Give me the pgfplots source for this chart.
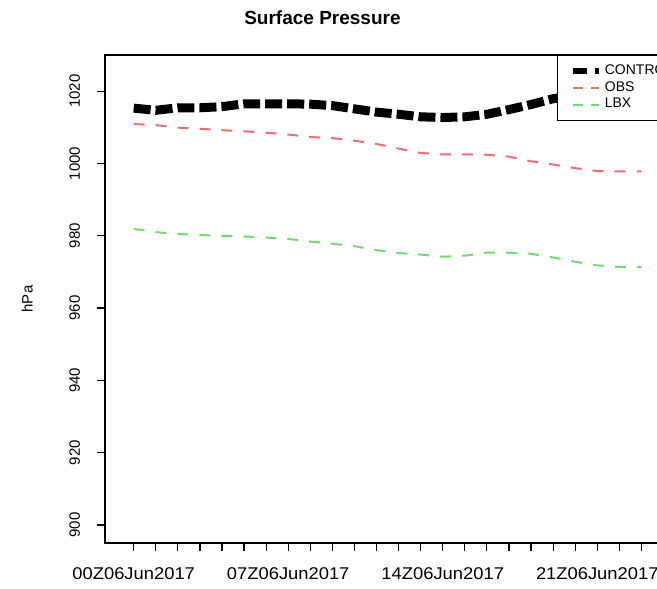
\documentclass[border=0pt]{standalone}
\usepackage{fontspec}
\setmainfont{Liberation Sans}
\newfontfamily\widefont[FakeStretch=1.08]{Liberation Sans}
\usepackage{pgfplots}
\usepackage{pgfplotstable}
\pgfplotsset{compat=1.18}
\definecolor{rline}{RGB}{240,110,110}
\definecolor{gline}{RGB}{110,220,110}
\pgfplotstableread{
h ctl obs lbx
0 1015.3 1010.9 981.9
1 1014.7 1010.6 981.0
2 1015.4 1009.9 980.5
3 1015.4 1009.6 980.2
4 1015.7 1009.2 979.9
5 1016.5 1008.9 979.8
6 1016.5 1008.5 979.5
7 1016.5 1008.0 979.1
8 1016.4 1007.3 978.4
9 1016.0 1007.0 977.8
10 1015.1 1006.3 977.1
11 1014.2 1005.4 976.0
12 1013.6 1004.1 975.2
13 1012.9 1002.9 974.8
14 1012.7 1002.5 974.2
15 1012.9 1002.5 974.5
16 1013.6 1002.4 975.3
17 1014.9 1001.9 975.3
18 1016.3 1000.6 975.0
19 1017.9 999.7 974.0
20 1018.8 998.7 972.8
21 1019.3 997.9 971.8
22 1019.5 997.8 971.4
23 1019.6 997.8 971.3
}\datatable
\pgfplotsset{
  mylegend/.style={
    legend style={at={(axis description cs:0.634,1)}, anchor=north west, draw=black, line width=0.6pt, fill=white,
      font=\fontsize{7}{8}\selectfont, inner xsep=6pt, inner ysep=3pt, row sep=-1.2pt,
      nodes={inner sep=1.6pt}},
    legend cell align=left,
    legend image code/.code={\draw[##1] (0pt,0pt) -- (13pt,0pt);},
  }
}
\begin{document}
\begin{tikzpicture}
\begin{axis}[
  at={(52.5pt,22.5pt)}, anchor=south west,
  scale only axis, width=356.5pt, height=244pt,
  xmin=-1.3, xmax=31, ymin=895, ymax=1030,
  axis line style={line width=0.6pt},
  tick style={black, line width=0.6pt},
  tick align=outside, tick pos=left,
  major tick length=4pt,
  xtick={0,...,30},
  xticklabels={00Z06Jun2017,,,,,,,07Z06Jun2017,,,,,,,14Z06Jun2017,,,,,,,21Z06Jun2017,,,,,,,,,},
  ytick={900,920,...,1020},
  yticklabels={900,920,940,960,980,1000,1020},
  yticklabel style={rotate=90, anchor=south, font=\fontsize{7.5}{9}\selectfont},
  yticklabel shift=5pt,
  xticklabel style={font=\widefont\fontsize{8.5}{10}\selectfont},
  xticklabel shift=5pt,
  ylabel={hPa},
  ylabel style={at={(axis description cs:-0.109,0.5)}, anchor=center, font=\fontsize{7.5}{9}\selectfont},
  clip=false,
]
\addplot[rline, line width=1pt, dash pattern=on 5.5pt off 5.5pt] table[x=h, y=obs] {\datatable};
\addplot[gline, line width=1pt, dash pattern=on 5.5pt off 5.5pt] table[x=h, y=lbx] {\datatable};
\addplot[black, line width=4.5pt, dash pattern=on 8.5pt off 2.5pt] table[x=h, y=ctl] {\datatable};
\node[font=\fontsize{9.5}{11}\selectfont\bfseries] at (axis description cs:0.305,1.076) {Surface Pressure};
\end{axis}
\begin{axis}[
  at={(52.5pt,22.5pt)}, anchor=south west,
  scale only axis, width=356.5pt, height=244pt,
  xmin=-1.3, xmax=31, ymin=895, ymax=1030,
  hide axis, mylegend,
]
\addlegendimage{black, line width=3pt, dash pattern=on 7pt off 4pt}
\addlegendentry{CONTROL}
\addlegendimage{rline, line width=1pt, dash pattern=on 5pt off 4pt}
\addlegendentry{OBS}
\addlegendimage{gline, line width=1pt, dash pattern=on 5pt off 4pt}
\addlegendentry{LBX}
\end{axis}
\pgfresetboundingbox
\path[use as bounding box] (0pt,0pt) rectangle (328.5pt,294pt);
\end{tikzpicture}
\end{document}
